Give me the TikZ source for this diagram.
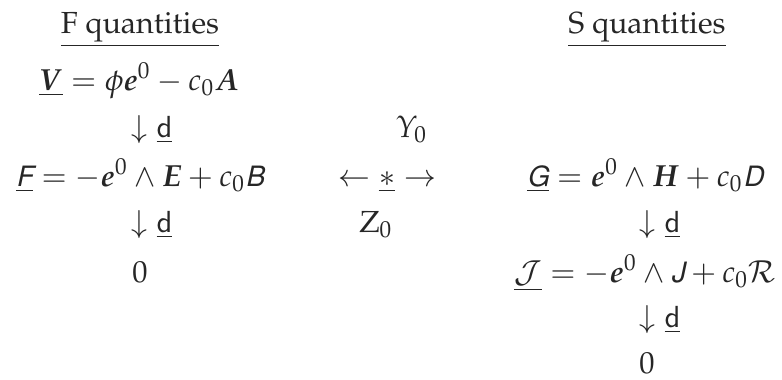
\documentclass[tikz,border=0pt]{standalone}
\usepackage[T1]{fontenc}
\usepackage{amsmath}
\usepackage[slantedGreek]{mathpazo}
\usepackage[scaled=0.92]{helvet}
\usepackage{bm}
\newcommand{\sfsl}[1]{\underline{\textsf{\slshape #1}}}
\newcommand{\dd}{\downarrow\underline{\mathsf{d}}}
\begin{document}
\begin{tikzpicture}[x=0.328pt,y=-0.328pt,
  lbl/.style={anchor=base,inner sep=0pt,outer sep=0pt,text=black!85}]
\useasboundingbox (0,0) rectangle (782,379);
\node[lbl] (fq) at (140,33) {\underline{F quantities}};
\node[lbl] (sq) at (647,33) {\underline{S quantities}};
\node[lbl] (v) at (139,90) {$\underline{\bm{V}} = \phi\bm{e}^0 - c_0\bm{A}$};
\node[lbl] (d1) at (152,137) {$\dd$};
\node[lbl] (ups) at (412,137) {$\Upsilon_0$};
\node[lbl] (f) at (140,186) {$\sfsl{F} = -\bm{e}^0\wedge\bm{E} + c_0\textsf{\slshape B}$};
\node[lbl] (star) at (387,186) {$\leftarrow\underline{\ast}\rightarrow$};
\node[lbl] (g) at (645,186) {$\sfsl{G} = \bm{e}^0\wedge\bm{H} + c_0\textsf{\slshape D}$};
\node[lbl] (d2) at (152,232) {$\dd$};
\node[lbl] (z) at (376,232) {$\mathrm{Z}_0$};
\node[lbl] (d3) at (660,232) {$\dd$};
\node[lbl] (zl) at (140,282) {$0$};
\node[lbl] (j) at (645,282) {$\underline{\mathcal{J}} = -\bm{e}^0\wedge\textsf{\slshape J} + c_0\mathcal{R}$};
\node[lbl] (d4) at (660,327) {$\dd$};
\node[lbl] (zr) at (647,373) {$0$};
\end{tikzpicture}
\end{document}
